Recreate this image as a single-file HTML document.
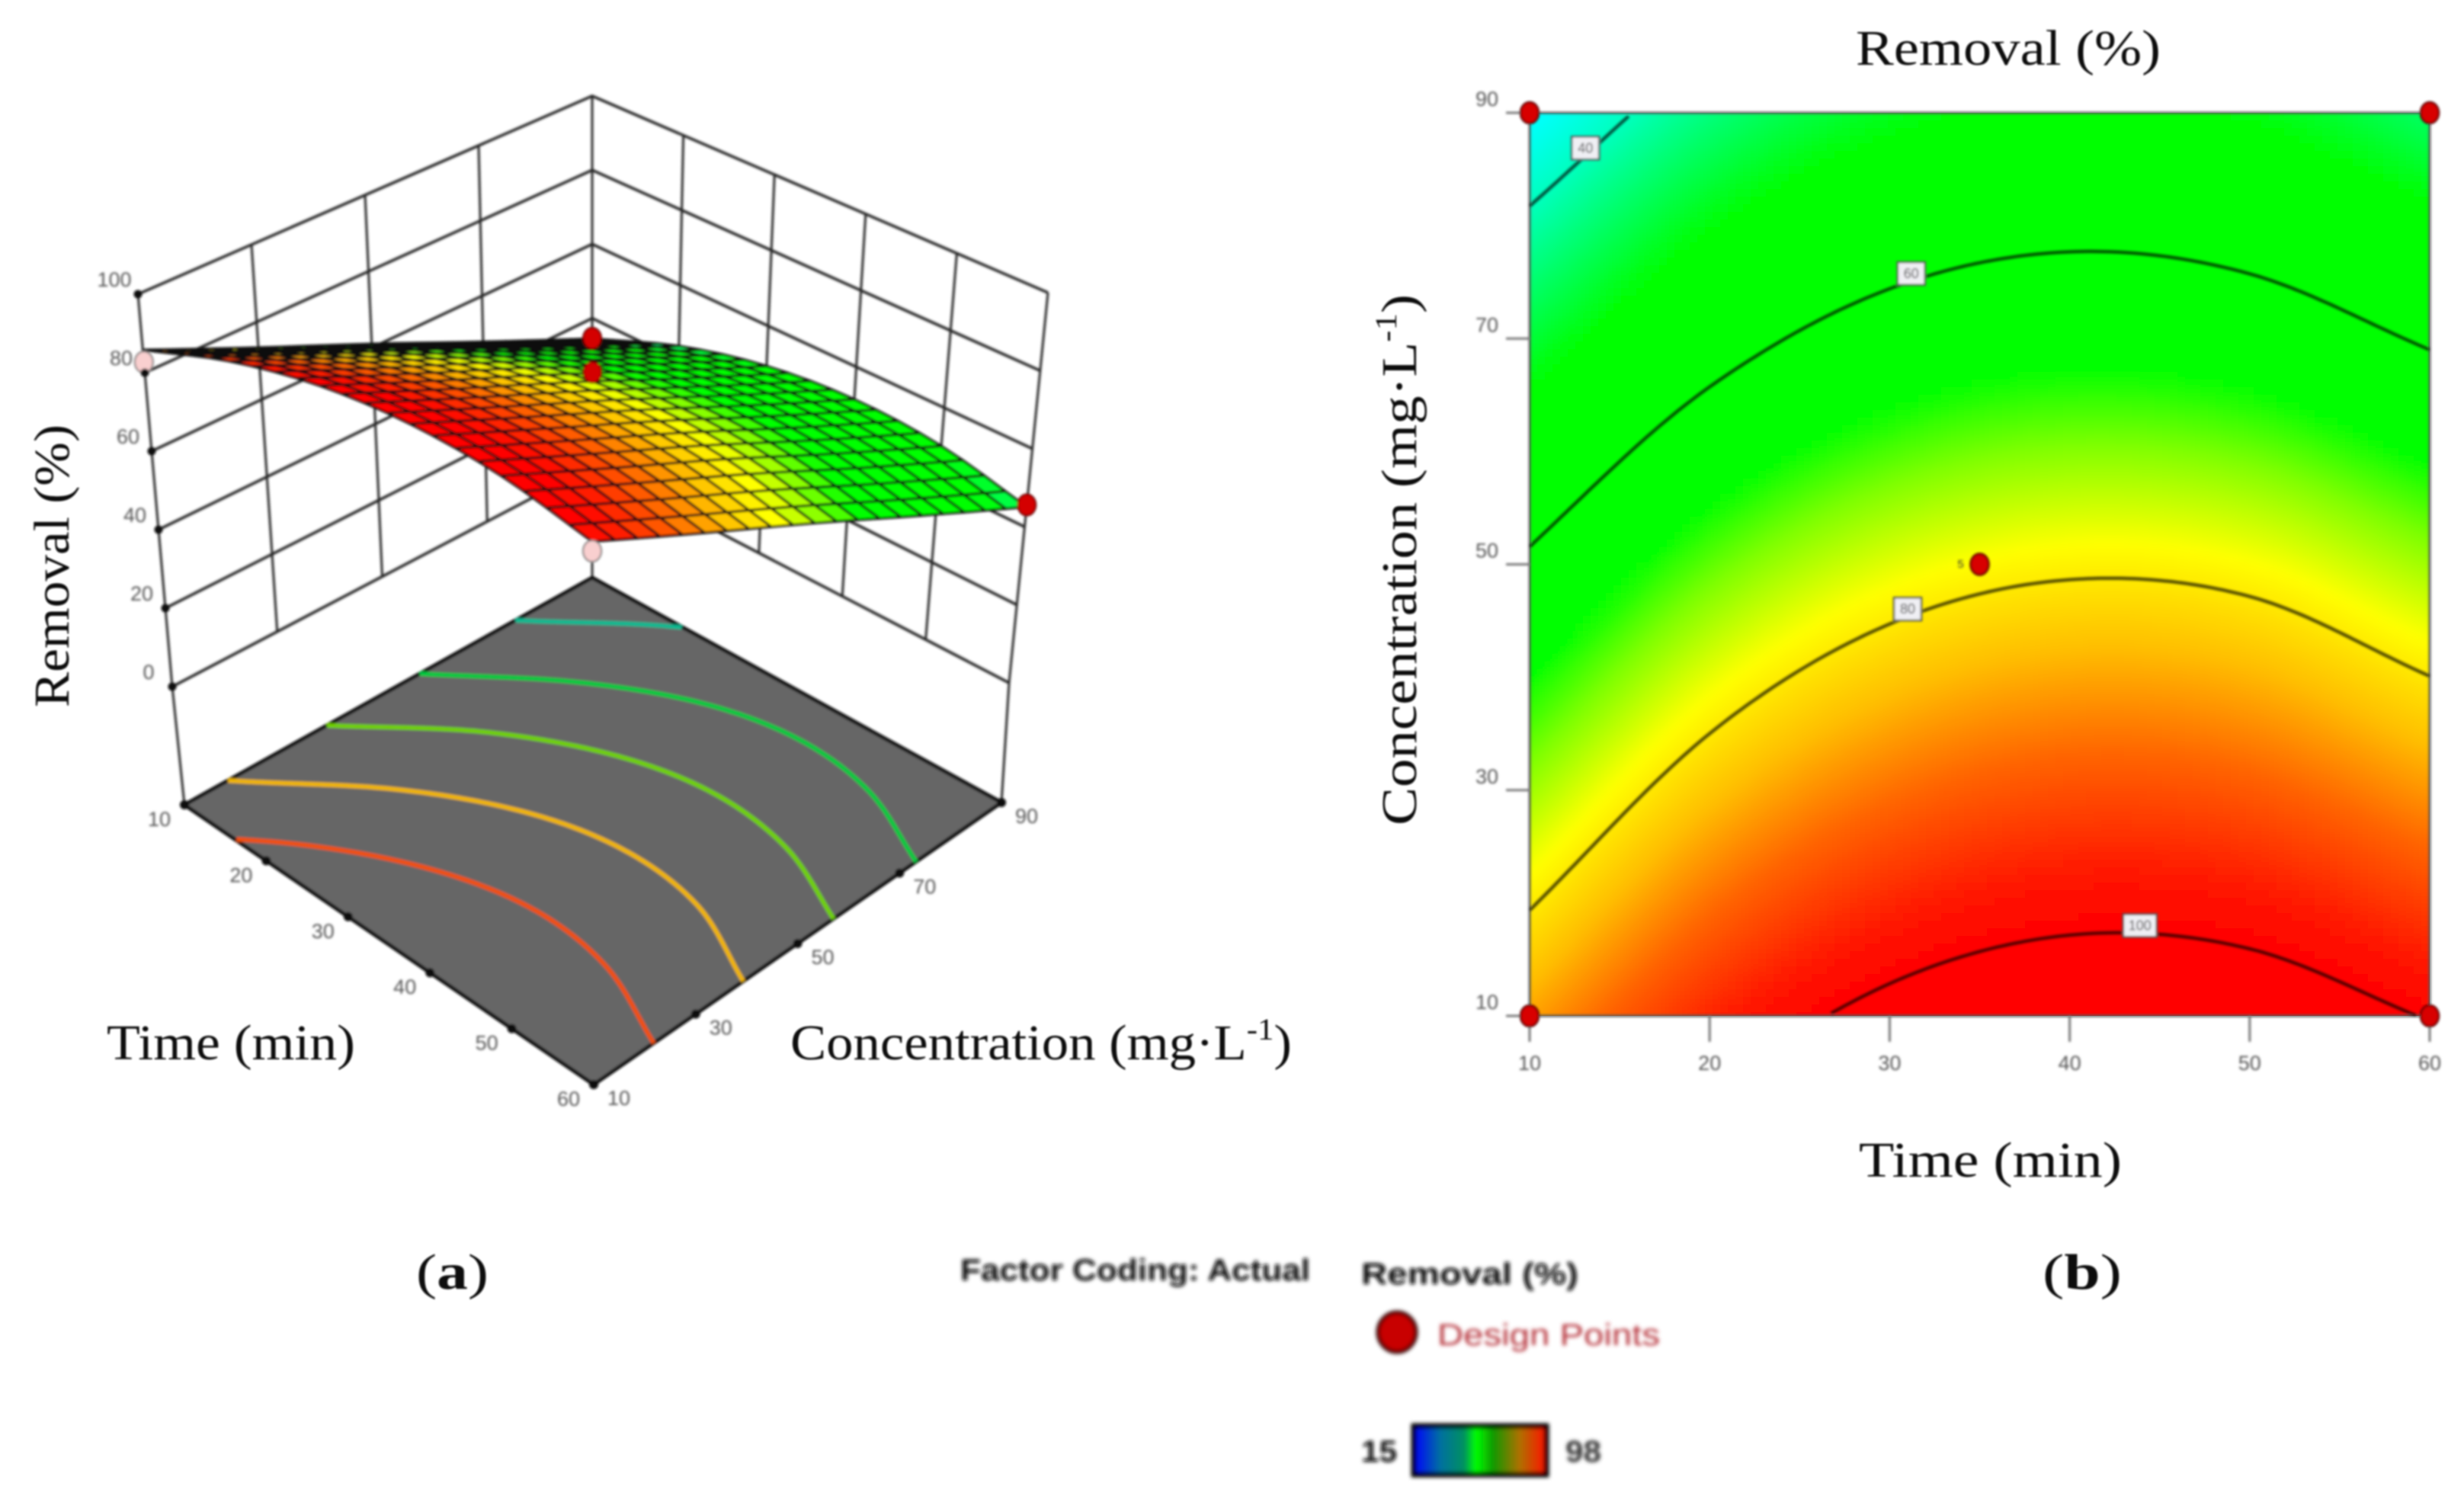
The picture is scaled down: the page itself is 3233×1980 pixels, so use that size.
<!DOCTYPE html>
<html lang="en">
<head>
<meta charset="utf-8">
<title>Removal response surface and contour plot</title>
<style>
html,body{margin:0;padding:0;background:#fff;width:3233px;height:1980px;overflow:hidden}
svg{display:block}
.title{font-family:"Liberation Serif",serif;fill:#111}
.tick{font-family:"Liberation Sans",sans-serif;fill:#555;font-size:27px;text-anchor:middle;dominant-baseline:central}
.foot{font-family:"Liberation Sans",sans-serif;font-weight:700;fill:#111}
</style>
</head>
<body>
<svg id="figure" xmlns="http://www.w3.org/2000/svg" width="3233" height="1980" viewBox="0 0 3233 1980">
  <defs>
    <filter id="soft" filterUnits="userSpaceOnUse" x="0" y="0" width="3233" height="1980"><feGaussianBlur stdDeviation="1.7"/></filter>
    <filter id="softer" filterUnits="userSpaceOnUse" x="0" y="0" width="3233" height="1980"><feGaussianBlur stdDeviation="2.6"/></filter>
    <filter id="softText" filterUnits="userSpaceOnUse" x="0" y="0" width="3233" height="1980"><feGaussianBlur stdDeviation="1"/></filter>
    <filter id="heatBlur" filterUnits="userSpaceOnUse" x="1900" y="50" width="1400" height="1400"><feGaussianBlur stdDeviation="5"/></filter>
    <clipPath id="plotClip"><rect x="2007" y="148" width="1181" height="1185"/></clipPath>
    <linearGradient id="barGradient" x1="0" x2="1" y1="0" y2="0">
      <stop offset="0" stop-color="#0000ff"/>
      <stop offset="0.2" stop-color="#0070a0"/>
      <stop offset="0.38" stop-color="#009060"/>
      <stop offset="0.47" stop-color="#00ff00"/>
      <stop offset="0.6" stop-color="#109800"/>
      <stop offset="0.8" stop-color="#b07000"/>
      <stop offset="1" stop-color="#ff1000"/>
    </linearGradient>
  </defs>
  <rect width="3233" height="1980" fill="#fff"/>

  <g id="chart3d" filter="url(#soft)"></g>
  <g id="heat" clip-path="url(#plotClip)"><g id="heatCells" filter="url(#heatBlur)"></g></g>
  <g id="chart2d" filter="url(#soft)"></g>

  <g filter="url(#softText)">
    <text class="title" font-size="66" transform="translate(90,928) rotate(-90)" textLength="371" lengthAdjust="spacingAndGlyphs">Removal (%)</text>
    <text class="title" font-size="66" x="140" y="1390" textLength="326" lengthAdjust="spacingAndGlyphs">Time (min)</text>
    <text class="title" font-size="66" x="1037" y="1390" textLength="658" lengthAdjust="spacingAndGlyphs">Concentration (mg·L<tspan font-size="40" dy="-26">-1</tspan><tspan dy="26">)</tspan></text>
    <text class="title" font-size="66" x="2435" y="85" textLength="400" lengthAdjust="spacingAndGlyphs">Removal (%)</text>
    <text class="title" font-size="66" transform="translate(1858,1083) rotate(-90)" textLength="697" lengthAdjust="spacingAndGlyphs">Concentration (mg·L<tspan font-size="40" dy="-26">-1</tspan><tspan dy="26">)</tspan></text>
    <text class="title" font-size="66" x="2439" y="1544" textLength="345" lengthAdjust="spacingAndGlyphs">Time (min)</text>
    <text class="title" font-size="66" x="546" y="1691" textLength="95" lengthAdjust="spacingAndGlyphs">(<tspan font-weight="700">a</tspan>)</text>
    <text class="title" font-size="66" x="2680" y="1691" textLength="104" lengthAdjust="spacingAndGlyphs">(<tspan font-weight="700">b</tspan>)</text>
  </g>

  <g filter="url(#softer)">
    <text class="foot" font-size="40" x="1260" y="1680" textLength="459" lengthAdjust="spacingAndGlyphs">Factor Coding: Actual</text>
    <text class="foot" font-size="40" x="1786" y="1685" textLength="285" lengthAdjust="spacingAndGlyphs">Removal (%)</text>
    <ellipse cx="1833" cy="1748" rx="25" ry="26" fill="#c80000" stroke="#300" stroke-width="5"/>
    <text class="foot" font-size="40" font-weight="400" style="fill:#b5333a;font-weight:400" x="1886" y="1765" textLength="292" lengthAdjust="spacingAndGlyphs">Design Points</text>
    <text class="foot" font-size="40" x="1786" y="1918" textLength="47" lengthAdjust="spacingAndGlyphs">15</text>
    <rect x="1855" y="1871" width="174" height="64" fill="url(#barGradient)" stroke="#000" stroke-width="7"/>
    <text class="foot" font-size="40" style="fill:#333" x="2054" y="1918" textLength="47" lengthAdjust="spacingAndGlyphs">98</text>
  </g>
</svg>

<script>
/* ---------- DATA ---------- */
const timeTicks = [10, 20, 30, 40, 50, 60];
const concTicks = [10, 30, 50, 70, 90];
const zTicks = [0, 20, 40, 60, 80, 100];
const contourConcTicks = [10, 30, 50, 70, 90];

/* removal (%) at each time tick, one small array per concentration tick */
const removalConc10 = [85.8, 95.5, 101.8, 104.5, 103.8, 99.7];
const removalConc30 = [73.4, 83.1, 89.2, 91.9, 91.0, 86.6];
const removalConc50 = [61.0, 70.6, 76.6, 79.1, 78.1, 73.4];
const removalConc70 = [47.8, 57.1, 63.0, 65.3, 64.0, 59.3];
const removalConc90 = [34.5, 43.7, 49.4, 51.5, 50.1, 45.1];

const contourLevels = [40, 60, 80, 100];
const contourLabelTimes = [13.1, 31.2, 31.0, 43.9];
const floorLevels = [44.5, 57, 68.5, 80.5, 92];
const floorLineColors = ['#10b890', '#00c840', '#70d000', '#f0b400', '#f05010'];

const designTime = [10, 60, 60, 10, 35];
const designConc = [10, 10, 90, 90, 50];
const designRemoval = [82.7, 97.4, 45.6, 34.6, 83];

const legendMin = 15;
const legendMax = 98;

/* ---------- colour map ---------- */
const colorStopValues = [35, 40, 44, 51, 67, 72, 78, 84, 90, 97, 100];
const colorStopReds   = [0, 0, 0, 0, 0, 128, 255, 255, 255, 255, 255];
const colorStopGreens = [255, 255, 255, 255, 255, 255, 255, 190, 100, 20, 0];
const colorStopBlues  = [255, 190, 120, 0, 0, 0, 0, 0, 0, 0, 0];

function colorParts(v){
  const n = colorStopValues.length;
  if (v <= colorStopValues[0]) return [colorStopReds[0], colorStopGreens[0], colorStopBlues[0]];
  if (v >= colorStopValues[n-1]) return [colorStopReds[n-1], colorStopGreens[n-1], colorStopBlues[n-1]];
  let i = 0;
  while (v > colorStopValues[i+1]) i++;
  const f = (v - colorStopValues[i]) / (colorStopValues[i+1] - colorStopValues[i]);
  return [
    colorStopReds[i] + f * (colorStopReds[i+1] - colorStopReds[i]),
    colorStopGreens[i] + f * (colorStopGreens[i+1] - colorStopGreens[i]),
    colorStopBlues[i] + f * (colorStopBlues[i+1] - colorStopBlues[i])
  ];
}
function colorOf(v){
  const p = colorParts(v);
  return 'rgb(' + Math.round(p[0]) + ',' + Math.round(p[1]) + ',' + Math.round(p[2]) + ')';
}

/* ---------- surface lookup: smooth rendering between the table values ---------- */
const removalRows = [removalConc10, removalConc30, removalConc50, removalConc70, removalConc90];
function cubic(a, b, c, d, s){
  return 0.5 * ((2*b) + (c-a)*s + (2*a-5*b+4*c-d)*s*s + (3*b-a-3*c+d)*s*s*s);
}
function sample(arr, pos){
  const n = arr.length;
  let i = Math.floor(pos);
  if (i < 0) i = 0;
  if (i > n-2) i = n-2;
  const s = pos - i;
  const p0 = i > 0 ? arr[i-1] : 2*arr[0]-arr[1];
  const p3 = i+2 < n ? arr[i+2] : 2*arr[n-1]-arr[n-2];
  return cubic(p0, arr[i], arr[i+1], p3, s);
}
const tMin = timeTicks[0], tMax = timeTicks[timeTicks.length-1];
const cMin = concTicks[0], cMax = concTicks[concTicks.length-1];
function surfaceValue(t, c){
  const tp = (t - tMin) / (tMax - tMin) * (timeTicks.length - 1);
  const cp = (c - cMin) / (cMax - cMin) * (concTicks.length - 1);
  const col = removalRows.map(function(r){ return sample(r, tp); });
  return sample(col, cp);
}
function concForLevel(t, level){
  if (surfaceValue(t, cMin) < level || surfaceValue(t, cMax) > level) return null;
  let lo = cMin, hi = cMax;
  for (let i = 0; i < 24; i++){
    const mid = (lo + hi) / 2;
    if (surfaceValue(t, mid) > level) lo = mid; else hi = mid;
  }
  return (lo + hi) / 2;
}
/* contour as separate runs, broken where the level leaves the plotted domain */
function contourRuns(level, toXY){
  const runs = [];
  let run = [];
  for (let t = tMin; t <= tMax + 1e-6; t += 0.25){
    const c = concForLevel(t, level);
    if (c === null){
      if (run.length) runs.push(run);
      run = [];
    } else {
      run.push(toXY(t, c));
    }
  }
  if (run.length) runs.push(run);
  return runs;
}

/* ---------- axis functions ---------- */
/* 3-D box corners: L=(t10,c10) B=(t10,c90) R=(t60,c90) F=(t60,c10) */
const quadFloor = {L:[242,1056], B:[777,758], R:[1314,1053], F:[779,1423]};
const quadZ0    = {L:[226,901],  B:[777,612], R:[1324,896],  F:[778,1248]};
const quadZ100  = {L:[181,386],  B:[777,126], R:[1375,384],  F:[777,709]};
function bilinear(q, t, c){
  const u = (t - tMin) / (tMax - tMin), w = (c - cMin) / (cMax - cMin);
  const x = q.L[0]*(1-u)*(1-w) + q.F[0]*u*(1-w) + q.B[0]*(1-u)*w + q.R[0]*u*w;
  const y = q.L[1]*(1-u)*(1-w) + q.F[1]*u*(1-w) + q.B[1]*(1-u)*w + q.R[1]*u*w;
  return [x, y];
}
function project(t, c, z){
  const a = bilinear(quadZ0, t, c), b = bilinear(quadZ100, t, c);
  return [a[0] + (b[0]-a[0])*z/100, a[1] + (b[1]-a[1])*z/100];
}
function floorXY(t, c){ return bilinear(quadFloor, t, c); }

const plotLeft = 2007, plotRight = 3188, plotTop = 148, plotBottom = 1333;
function xScale(t){ return plotLeft + (t - tMin) / (tMax - tMin) * (plotRight - plotLeft); }
function yScale(c){ return plotBottom - (c - cMin) / (cMax - cMin) * (plotBottom - plotTop); }
function xInvert(px){ return tMin + (px - plotLeft) / (plotRight - plotLeft) * (tMax - tMin); }
function yInvert(py){ return cMin + (plotBottom - py) / (plotBottom - plotTop) * (cMax - cMin); }

/* ---------- helpers ---------- */
const NS = 'http://www.w3.org/2000/svg';
function mk(tag, parent, attrs){
  const e = document.createElementNS(NS, tag);
  for (const k in attrs) e.setAttribute(k, attrs[k]);
  parent.appendChild(e);
  return e;
}
function pts(list){ return list.map(function(p){ return p[0].toFixed(1) + ',' + p[1].toFixed(1); }).join(' '); }

const g3 = document.getElementById('chart3d');
const g2 = document.getElementById('chart2d');
const gh = document.getElementById('heatCells');
const wallColor = '#262626';

/* ---------- 3-D walls ---------- */
zTicks.forEach(function(z){
  const line = mk('polyline', g3, {points: pts([project(tMin,cMin,z), project(tMin,cMax,z), project(tMax,cMax,z)]), fill:'none', stroke:wallColor, 'stroke-width':3.6});
  
  
});
concTicks.forEach(function(c){
  const a = project(tMin,c,0), b = project(tMin,c,100);
  const line = mk('line', g3, {x1:a[0], y1:a[1], x2:b[0], y2:b[1], stroke:wallColor, 'stroke-width':3});
  
  
});
timeTicks.forEach(function(t){
  const a = project(t,cMax,0), b = project(t,cMax,100);
  const line = mk('line', g3, {x1:a[0], y1:a[1], x2:b[0], y2:b[1], stroke:wallColor, 'stroke-width':3});
  
  
});
[[tMin,cMin],[tMin,cMax],[tMax,cMax]].forEach(function(k){
  const a = project(k[0],k[1],0), b = floorXY(k[0],k[1]);
  const line = mk('line', g3, {x1:a[0], y1:a[1], x2:b[0], y2:b[1], stroke:wallColor, 'stroke-width':3});
  
  
});

/* ---------- floor ---------- */
const floorPoly = mk('polygon', g3, {points: pts([floorXY(tMin,cMin), floorXY(tMin,cMax), floorXY(tMax,cMax), floorXY(tMax,cMin)]), fill:'#666666', stroke:'#111', 'stroke-width':5, 'stroke-linejoin':'round'});



floorLevels.forEach(function(level, idx){
  contourRuns(level, floorXY).forEach(function(run){
    const line = mk('polyline', g3, {points: pts(run), fill:'none', stroke: floorLineColors[idx], 'stroke-width':6});
    
    
  });
});

/* ---------- surface mesh ---------- */
const meshCells = 20;
for (let i = 0; i < meshCells; i++){
  for (let j = meshCells - 1; j >= 0; j--){
    const t0 = tMin + (tMax-tMin)*i/meshCells, t1 = tMin + (tMax-tMin)*(i+1)/meshCells;
    const c0 = cMin + (cMax-cMin)*j/meshCells, c1 = cMin + (cMax-cMin)*(j+1)/meshCells;
    const corners = [
      project(t0,c0,surfaceValue(t0,c0)),
      project(t1,c0,surfaceValue(t1,c0)),
      project(t1,c1,surfaceValue(t1,c1)),
      project(t0,c1,surfaceValue(t0,c1))
    ];
    const cell = mk('polygon', g3, {points: pts(corners), fill: colorOf(surfaceValue((t0+t1)/2,(c0+c1)/2)), stroke:'#0a0a0a', 'stroke-width':3.2, 'stroke-linejoin':'round'});
    
    
  }
}

/* ---------- 3-D design points ---------- */
designTime.forEach(function(t, i){
  const p = project(t, designConc[i], designRemoval[i]);
  const below = designRemoval[i] < surfaceValue(t, designConc[i]);
  const dot = mk('ellipse', g3, {cx:p[0], cy:p[1], rx:12, ry:14, fill: below ? '#f9cfcf' : '#d40000', stroke: below ? '#777' : '#5a0000', 'stroke-width':2});
  
  
});

/* ---------- 3-D ticks ---------- */
zTicks.forEach(function(z){
  const p = project(tMin,cMin,z);
  const dot = mk('circle', g3, {cx:p[0], cy:p[1], r:5.5, fill:'#111'});
  
  
  const lab = mk('text', g3, {x:p[0]-31, y:p[1]-19, class:'tick'});
  
  
  lab.textContent = z;
});
timeTicks.forEach(function(t){
  const p = floorXY(t, cMin);
  const dot = mk('circle', g3, {cx:p[0], cy:p[1], r:6, fill:'#111'});
  
  
  const lab = mk('text', g3, {x:p[0]-33, y:p[1]+19, class:'tick'});
  
  
  lab.textContent = t;
});
concTicks.forEach(function(c){
  const p = floorXY(tMax, c);
  const dot = mk('circle', g3, {cx:p[0], cy:p[1], r:6, fill:'#111'});
  
  
  const lab = mk('text', g3, {x:p[0]+33, y:p[1]+18, class:'tick'});
  
  
  lab.textContent = c;
});

/* ---------- 2-D heatmap ---------- */
const heatStep = 10;
for (let py = plotTop - 20; py < plotBottom + 20; py += heatStep){
  for (let px = plotLeft - 20; px < plotRight + 20; px += heatStep){
    const t = Math.max(tMin, Math.min(tMax, xInvert(px + heatStep/2)));
    const c = Math.max(cMin, Math.min(cMax, yInvert(py + heatStep/2)));
    const cellRect = mk('rect', gh, {x:px, y:py, width:heatStep+0.5, height:heatStep+0.5, fill: colorOf(surfaceValue(t,c)), 'shape-rendering':'crispEdges'});
    
    
  }
}

/* ---------- 2-D frame and ticks ---------- */
const frame = mk('rect', g2, {x:plotLeft, y:plotTop, width:plotRight-plotLeft, height:plotBottom-plotTop, fill:'none', stroke:'#5a5a5a', 'stroke-width':3});



timeTicks.forEach(function(t){
  const x = xScale(t);
  const tick = mk('line', g2, {x1:x, y1:plotBottom, x2:x, y2:plotBottom+34, stroke:'#777', 'stroke-width':3});
  
  
  const lab = mk('text', g2, {x:x, y:plotBottom+62, class:'tick'});
  
  
  lab.textContent = t;
});
contourConcTicks.forEach(function(c){
  const y = yScale(c);
  const tick = mk('line', g2, {x1:plotLeft-31, y1:y, x2:plotLeft, y2:y, stroke:'#777', 'stroke-width':3});
  
  
  const lab = mk('text', g2, {x:plotLeft-56, y:y-18, class:'tick'});
  
  
  lab.textContent = c;
});

/* ---------- 2-D contours ---------- */
function plotXY(t, c){ return [xScale(t), yScale(c)]; }
contourLevels.forEach(function(level, idx){
  contourRuns(level, plotXY).forEach(function(run){
    const line = mk('polyline', g2, {points: pts(run), fill:'none', stroke:'#000', 'stroke-opacity':0.66, 'stroke-width':4.5});
    
    
  });

  const ct = contourLabelTimes[idx];
  const cc = concForLevel(ct, level);
  if (cc !== null){
    const lx = xScale(ct), ly = yScale(cc);
    const wide = String(level).length > 2 ? 44 : 36;
    const box = mk('rect', g2, {x:lx-wide/2, y:ly-25, width:wide, height:30, fill:'#f0f0f4', stroke:'#555', 'stroke-width':2.5});
    
    
    const txt = mk('text', g2, {x:lx, y:ly-10, class:'tick', style:'font-size:18px;fill:#222'});
    
    
    txt.textContent = level;
  }
});

/* ---------- 2-D design points ---------- */
designTime.forEach(function(t, i){
  const dot = mk('ellipse', g2, {cx:xScale(t), cy:yScale(designConc[i]), rx:12, ry:14, fill:'#d80000', stroke:'#5a0000', 'stroke-width':2.5});
  
  
});
const repeatCount = mk('text', g2, {x:xScale(35)-25, y:yScale(50), class:'tick', style:'font-size:15px;fill:#333'});


repeatCount.textContent = '5';
</script>
</body>
</html>
